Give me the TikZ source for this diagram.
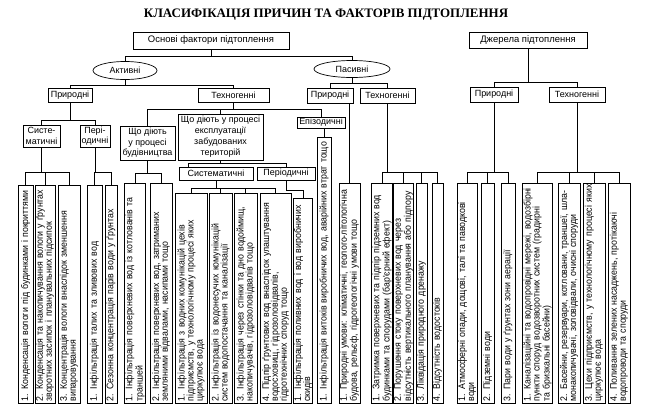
\documentclass[tikz,border=0pt]{standalone}
\usepackage{fontspec}
\setmainfont{Liberation Sans}
\newfontfamily\ttlfont{Liberation Serif}
\newfontfamily\vfont[FakeStretch=0.92]{Liberation Sans}
\usetikzlibrary{shapes.geometric,calc}
\tikzset{
 lbl/.style={draw, line width=0.7bp, inner sep=1bp, align=center, font=\fontsize{9}{10.5}\selectfont},
 oval/.style={draw, ellipse, line width=0.7bp, inner sep=0pt, font=\fontsize{9}{10.5}\selectfont},
 vbox/.style={draw, line width=0.7bp, rotate=90, inner xsep=1.5bp, inner ysep=0.8bp, align=left, font=\vfont\fontsize{9.6}{9}\selectfont},
 conn/.style={line width=0.7bp},
}
\newcommand\vbx[5]{%
 \pgfmathsetlengthmacro\vbL{(403-#4-3)*1bp}%
 \pgfmathsetlengthmacro\vbW{(#3-#2)*1bp}%
 \node[vbox, minimum height=\vbW, text width=\vbL] (#1) at ({(#2+#3)/2},{(#4+403)/2}) {#5};}
\begin{document}
\begin{tikzpicture}[x=1bp,y=-1bp]
\fill[white] (0,0) rectangle (650,417);
\useasboundingbox (0,0) rectangle (650,417);
\node[font=\ttlfont\bfseries\fontsize{13}{15}\selectfont] (title) at (326,15) {КЛАСИФІКАЦІЯ ПРИЧИН ТА ФАКТОРІВ ПІДТОПЛЕННЯ};

\node[lbl, minimum width=156bp, minimum height=17bp, font=\fontsize{9.5}{11}\selectfont] (osn) at (211,40.5) {Основі фактори підтоплення};
\node[lbl, minimum width=118bp, minimum height=16bp, font=\fontsize{9.5}{11}\selectfont] (dzh) at (528,40) {Джерела підтоплення};
\node[oval, minimum width=64bp, minimum height=18bp] (akt) at (125,70.5) {Активні};
\node[oval, minimum width=76bp, minimum height=17bp] (pas) at (352,69) {Пасивні};

\node[lbl, minimum width=44bp, minimum height=14bp] (ap) at (70,95) {Природні};
\node[lbl, minimum width=71bp, minimum height=14bp] (at) at (233.5,95) {Техногенні};
\node[lbl, minimum width=46bp, minimum height=15bp] (pp) at (330,95.5) {Природні};
\node[lbl, minimum width=55bp, minimum height=15bp] (pt) at (387.5,95.5) {Техногенні};
\node[lbl, minimum width=48bp, minimum height=15bp] (dp) at (494,94.5) {Природні};
\node[lbl, minimum width=56bp, minimum height=15bp] (dt) at (577,94.5) {Техногенні};

\node[lbl, minimum width=37bp, minimum height=22bp] (sys1) at (41.5,136) {Систе-\\матичні};
\node[lbl, minimum width=30bp, minimum height=22bp] (per1) at (95,136) {Пері-\\одичні};
\node[lbl, minimum width=55bp, minimum height=34bp] (bud) at (147.5,143) {Що діють\\у процесі\\будівництва};
\node[lbl, minimum width=85bp, minimum height=46bp, font=\fontsize{9}{11}\selectfont] (eks) at (220.5,137) {Що діють у процесі\\експлуатації\\забудованих\\територій};
\node[lbl, minimum width=48bp, minimum height=11bp] (epi) at (321,122.5) {Епізодичні};
\node[lbl, minimum width=74bp, minimum height=13bp] (sys2) at (216,173.5) {Систематичні};
\node[lbl, minimum width=58bp, minimum height=13bp] (per2) at (286,173.5) {Періодичні};

\vbx{b1}{18}{33}{185}{\mbox{1. Конденсація вологи під будинками і покриттями}}
\vbx{b2}{35}{55}{185}{\mbox{2. Конденсація та накопичування вологи у ґрунтах}\\\mbox{зворотних засипок і планувальних підсипок}}
\vbx{b3}{58}{80}{185}{\mbox{3. Концентрація вологи внаслідок зменшення}\\\mbox{випаровування}}
\vbx{b4}{87}{102}{185}{\mbox{1. Інфільтрація талих та зливових вод}}
\vbx{b5}{105}{117}{185}{\mbox{2. Сезонна концентрація парів води у ґрунтах}}
\vbx{b6}{125}{145}{183}{\mbox{1. Інфільтрація поверхневих вод із котлованів та}\\\mbox{траншей}}
\vbx{b7}{150}{172}{183}{\mbox{2. Інфільтрація поверхневих вод, затриманих}\\\mbox{земляними відвалами, насипами тощо}}
\vbx{b8}{175}{207}{193}{\mbox{1. Інфільтрація з водних комунікацій цехів}\\\mbox{підприємств, у технологічному процесі яких}\\\mbox{циркулює вода}}
\vbx{b9}{209}{232}{193}{\mbox{2. Інфільтрація із водонесучих комунікацій}\\\mbox{систем водопостачання та каналізації}}
\vbx{b10}{234}{257}{193}{\mbox{3. Інфільтрація через стінки та дно водоймищ,}\\\mbox{накопичувачів, гідрозоловідвалів тощо}}
\vbx{b11}{260}{291}{193}{\mbox{4. Підпір ґрунтових вод внаслідок улаштування}\\\mbox{водосховищ, гідрозоловідвалів,}\\\mbox{гідротехнічних споруд тощо}}
\vbx{b12}{294}{312}{198}{\mbox{1. Інфільтрація поливних вод і вод виробничих}\\\mbox{скидів}}
\vbx{b13}{317}{331}{137}{\mbox{1. Інфільтрація витоків виробничих вод, аварійних втрат тощо}}
\vbx{b14}{339}{360}{183}{\mbox{1. Природні умови: кліматичні, геолого-літологічна}\\\mbox{будова, рельєф, гідрогеологічні умови тощо}}
\vbx{b15}{372}{392}{183}{\mbox{1. Затримка поверхневих та підпір підземних вод}\\\mbox{будинками та спорудами (бар'єрний ефект)}}
\vbx{b16}{394}{413}{183}{\mbox{2. Порушення стоку поверхневих вод через}\\\mbox{відсутність вертикального планування або підпору}}
\vbx{b17}{416}{427}{183}{\mbox{3. Ліквідація природного дренажу}}
\vbx{b18}{432}{443}{183}{\mbox{4. Відсутність водостоків}}
\vbx{b19}{457}{477}{183}{\mbox{1. Атмосферні опади, дощові, талі та паводкові}\\\mbox{води}}
\vbx{b20}{481}{494}{183}{\mbox{2. Підземні води}}
\vbx{b21}{501}{515}{183}{\mbox{3. Пари води у ґрунтах зони аерації}}
\vbx{b22}{523}{552}{183}{\mbox{1. Каналізаційні та водопровідні мережі, водозбірні}\\\mbox{пункти споруд водозворотних систем (градирні}\\\mbox{та бризкальні басейни)}}
\vbx{b23}{558}{580}{183}{\mbox{2. Басейни, резервуари, котловани, траншеї, шла-}\\\mbox{монакопичувачі, золовідвали, очисні споруди}}
\vbx{b24}{583}{605}{183}{\mbox{3. Цехи підприємств, у технологічному процесі яких}\\\mbox{циркулює вода}}
\vbx{b25}{608}{630}{183}{\mbox{4. Поливання зелених насаджень, протікаючі}\\\mbox{водопроводи та споруди}}

% connectors
\coordinate (osnbar) at (211,56);
\draw[conn] (osn.south) -- (osnbar);
\draw[conn] (akt.north) -- (akt.north |- osnbar) -- (pas.north |- osnbar) -- (pas.north);
\coordinate (aktbar) at (125,85);
\draw[conn] (akt.south) -- (aktbar);
\draw[conn] (ap.north) -- (ap.north |- aktbar) -- (at.north |- aktbar) -- (at.north);
\coordinate (pasbar) at (352,83);
\draw[conn] (pas.south) -- (pasbar);
\draw[conn] (pp.north) -- (pp.north |- pasbar) -- (pt.north |- pasbar) -- (pt.north);
\coordinate (dzhbar) at (528,82);
\draw[conn] (dzh.south) -- (dzhbar);
\draw[conn] (dp.north) -- (dp.north |- dzhbar) -- (dt.north |- dzhbar) -- (dt.north);

\coordinate (apbar) at (70,120);
\draw[conn] (ap.south) -- (apbar);
\draw[conn] (sys1.north) -- (sys1.north |- apbar) -- (per1.north |- apbar) -- (per1.north);
\coordinate (atbar) at (233.5,109);
\draw[conn] (at.south) -- (atbar);
\draw[conn] (bud.north) -- (bud.north |- atbar) -- (epi.north |- atbar) -- (epi.north);
\draw[conn] (eks.north) -- (eks.north |- atbar);
\coordinate (eksbar) at (220.5,163);
\coordinate (s2d) at (188,163);
\draw[conn] (eks.south) -- (eksbar);
\draw[conn] (s2d |- sys2.north) -- (s2d) -- (per2.north |- eksbar) -- (per2.north);

% bottom groups
\coordinate (gA) at (41.5,172);
\draw[conn] (sys1.south) -- (gA);
\draw[conn] (b1.east) -- (b1.east |- gA) -- (b3.east |- gA) -- (b3.east);
\draw[conn] (b2.east) -- (b2.east |- gA);
\coordinate (gB) at (95,172);
\draw[conn] (per1.south) -- (gB);
\draw[conn] (b4.east) -- (b4.east |- gB) -- (b5.east |- gB) -- (b5.east);
\coordinate (gC) at (147.5,173);
\draw[conn] (bud.south) -- (gC);
\draw[conn] (b6.east) -- (b6.east |- gC) -- (b7.east |- gC) -- (b7.east);
\coordinate (gD) at (216,188);
\draw[conn] (sys2.south) -- (gD);
\draw[conn] (b8.east) -- (b8.east |- gD) -- (b11.east |- gD) -- (b11.east);
\draw[conn] (b9.east) -- (b9.east |- gD);
\draw[conn] (b10.east) -- (b10.east |- gD);
\draw[conn] (per2.south) -- ++(0,10) -| (b12.east);
\draw[conn] (epi.south -| b13.east) -- (b13.east);
\draw[conn] (pp.south -| b14.east) -- (b14.east);
\coordinate (gH) at (387.5,172);
\draw[conn] (pt.south) -- (gH);
\draw[conn] (b15.east) -- (b15.east |- gH) -- (b18.east |- gH) -- (b18.east);
\draw[conn] (b16.east) -- (b16.east |- gH);
\draw[conn] (b17.east) -- (b17.east |- gH);
\coordinate (gI) at (494,172);
\draw[conn] (dp.south) -- (gI);
\draw[conn] (b19.east) -- (b19.east |- gI) -- (b21.east |- gI) -- (b21.east);
\draw[conn] (b20.east) -- (b20.east |- gI);
\coordinate (gJ) at (577,172);
\draw[conn] (dt.south) -- (gJ);
\draw[conn] (b22.east) -- (b22.east |- gJ) -- (b25.east |- gJ) -- (b25.east);
\draw[conn] (b23.east) -- (b23.east |- gJ);
\draw[conn] (b24.east) -- (b24.east |- gJ);
\end{tikzpicture}
\end{document}
